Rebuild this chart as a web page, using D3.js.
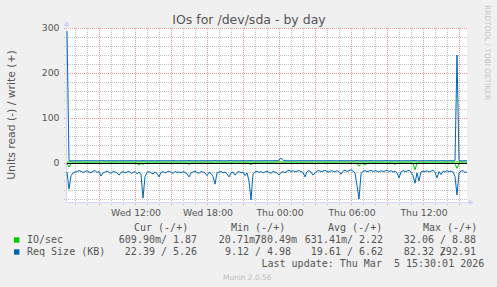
<!DOCTYPE html>
<html>
<head>
<meta charset="utf-8">
<script src="https://cdn.jsdelivr.net/npm/d3@7"></script>
<style>
body { margin: 0; background: #f0f0f0; }
svg { display: block; }
</style>
</head>
<body>
<div id="vis-container"></div>
<script>
// samples every 10 minutes, first one at Wed 06:20
var startTime = new Date(2026, 2, 4, 6, 20);
var endTime = new Date(2026, 2, 5, 15, 40);
var stepMinutes = 10;

// read values are drawn below zero
var reqRead = [
	20,58,28,22,20,19,17,18,21,19,
	17,20,22,18,17,21,19,29,22,20,
	18,21,23,19,20,22,27,21,19,22,
	20,18,23,21,19,24,20,26,78,30,
	21,19,22,24,20,23,31,21,19,22,
	20,18,21,23,19,21,20,22,19,21,
	24,31,22,20,18,21,23,19,20,22,
	28,21,23,30,47,22,20,19,22,20,
	24,31,22,20,27,21,19,22,20,28,
	22,40,82,24,20,18,21,19,22,20,
	18,21,23,19,20,22,27,21,19,22,
	18,16,19,17,20,18,17,19,21,31,
	19,17,20,27,22,18,17,19,18,16,
	19,20,17,18,20,17,19,25,18,16,
	19,17,15,18,22,50,80,24,18,17,
	19,18,16,19,17,18,20,17,19,18,
	16,19,17,20,18,22,33,20,17,19,
	18,16,20,28,45,22,40,20,18,19,
	17,20,18,16,21,33,19,26,18,20,
	17,19,18,20,30,71,22,18,17,21,
	20
];
var reqWrite = [
	292.9,5.1,4.9,5.0,5.2,4.8,5.0,5.1,4.9,5.0,
	5.2,5.0,4.9,5.1,5.0,4.8,5.0,5.2,5.1,4.9,
	5.0,5.1,4.9,5.0,5.2,5.0,4.8,5.1,5.0,4.9,
	5.1,5.0,5.2,4.9,5.0,5.1,4.8,5.0,5.3,5.0,
	4.9,5.1,5.0,5.0,4.8,5.2,5.0,4.9,5.1,5.0,
	5.0,4.9,5.1,5.2,5.0,4.8,5.0,5.1,4.9,5.0,
	5.1,5.3,5.0,4.9,5.0,5.1,4.8,5.0,5.2,4.9,
	5.0,5.1,4.9,5.0,5.4,5.0,4.9,5.1,5.0,4.8,
	5.0,5.2,5.1,4.9,5.0,5.1,4.9,5.0,5.2,5.0,
	4.8,5.1,5.4,5.0,4.9,5.0,5.1,4.9,5.0,5.2,
	5.0,4.9,5.1,5.0,5.2,5.0,6.5,11,6.0,5.1,
	5.0,4.9,5.1,5.0,4.8,5.0,5.2,5.1,4.9,5.0,
	5.1,5.0,4.9,5.2,5.0,4.8,5.1,5.0,4.9,5.1,
	5.0,5.2,4.9,5.0,5.1,4.8,5.0,5.3,5.0,4.9,
	5.1,5.0,5.0,4.8,5.2,5.4,5.0,4.9,5.1,5.0,
	4.9,5.1,5.2,5.0,4.8,5.0,5.1,4.9,5.0,5.1,
	5.3,5.0,4.9,5.0,5.1,4.8,5.2,5.0,4.9,5.0,
	5.1,4.9,5.0,5.2,5.5,5.0,4.9,5.1,5.0,4.8,
	5.0,5.2,5.1,4.9,5.0,5.1,4.9,5.0,5.2,5.0,
	4.8,5.1,5.0,5.0,5.3,240,5.2,5.0,4.9,5.1,
	5.0
];
var ioRead = [
	0.6,9,0.8,0.6,0.5,0.6,0.7,0.6,0.5,0.6,
	0.7,0.6,0.6,0.5,0.7,0.6,0.6,0.8,0.6,0.5,
	0.6,0.7,0.6,0.6,0.5,0.6,0.7,0.6,0.6,0.5,
	0.6,0.7,0.6,0.5,0.6,0.8,5,0.7,3,0.6,
	0.5,0.6,0.7,0.6,0.6,0.5,0.7,0.6,0.6,0.5,
	0.6,0.7,0.6,0.6,0.5,0.6,0.7,0.6,0.5,0.6,
	0.7,3,0.6,0.5,0.6,0.7,0.6,0.6,0.5,0.6,
	0.7,0.6,0.6,0.5,1.2,0.6,0.7,0.6,0.5,0.6,
	0.6,0.7,0.6,0.5,0.6,0.7,0.6,0.6,0.5,0.6,
	0.7,0.8,4,0.7,0.6,0.5,0.6,0.7,0.6,0.6,
	0.5,0.6,0.7,0.6,0.6,0.5,0.7,0.6,0.6,0.5,
	0.6,0.7,0.6,0.6,0.5,0.6,0.7,0.6,0.5,0.6,
	0.7,0.6,0.6,0.5,2,0.6,0.7,0.6,0.5,0.6,
	0.6,0.7,0.6,0.5,0.6,0.7,0.6,0.6,0.5,0.6,
	0.7,0.6,0.6,0.5,0.6,0.9,7,0.8,0.6,5,
	0.7,0.6,0.6,0.5,0.6,0.7,0.6,0.6,0.5,0.6,
	0.7,0.6,0.6,0.5,3,0.6,0.7,0.6,0.5,0.6,
	0.6,0.7,0.6,1.5,15,0.8,0.6,0.6,0.5,0.6,
	0.7,0.6,0.6,0.5,0.6,0.7,0.6,0.6,0.5,0.6,
	0.6,0.7,0.6,0.5,1.5,12,0.8,0.6,0.6,0.6,
	0.6
];
var ioWrite = [
	2.1,2.3,2.2,2.0,2.2,2.4,2.1,2.2,2.3,2.0,
	2.2,2.1,2.3,2.2,2.0,2.2,2.4,2.1,2.2,2.3,
	2.1,2.2,2.0,2.3,2.2,2.1,2.4,2.2,2.0,2.2,
	2.3,2.1,2.2,2.2,2.0,2.3,2.1,2.2,2.4,2.1,
	2.2,2.0,2.3,2.2,2.1,2.2,2.3,2.0,2.2,2.1,
	2.4,2.2,2.1,2.3,2.2,2.0,2.2,2.1,2.3,2.2,
	2.1,2.2,2.4,2.0,2.2,2.3,2.1,2.2,2.0,2.3,
	2.2,2.1,2.2,2.3,2.0,2.2,2.4,2.1,2.2,2.2,
	2.0,2.3,2.1,2.2,2.4,2.1,2.2,2.0,2.3,2.2,
	2.1,2.2,2.3,2.0,2.2,2.1,2.4,2.2,2.1,2.3,
	2.2,2.0,2.2,2.1,2.3,2.2,2.6,2.4,2.2,2.1,
	2.3,2.2,2.0,2.2,2.4,2.1,2.2,2.3,2.0,2.2,
	2.1,2.3,2.2,2.0,2.2,2.4,2.1,2.2,2.3,2.0,
	2.2,2.1,2.3,2.2,2.0,2.2,2.4,2.1,2.2,2.3,
	2.1,2.2,2.0,2.3,2.2,2.1,2.4,2.2,2.0,2.2,
	2.3,2.1,2.2,2.2,2.0,2.3,2.1,2.2,2.4,2.1,
	2.2,2.0,2.3,2.2,2.1,2.2,2.3,2.0,2.2,2.1,
	2.4,2.2,2.1,2.3,2.2,2.0,2.2,2.1,2.3,2.2,
	2.1,2.2,2.4,2.0,2.2,2.3,2.1,2.2,2.0,2.3,
	2.2,2.1,2.2,2.3,2.0,2.5,2.4,2.1,2.2,2.2,
	1.9
];

var yMajorTicks = [0, 100, 200, 300];
var legendNames = ["IO/sec", "Req Size (KB)"];
var legendColors = ["#00cc00", "#0066b3"];
var legendHeaders = ["Cur (-/+)", "Min (-/+)", "Avg (-/+)", "Max (-/+)"];
// [left part incl. "/", right part] per column
var legendValues = [
	[["609.90m/", " 1.87 "], ["20.71m/", "780.49m"], ["631.41m/", " 2.22 "], ["32.06 /", " 8.88 "]],
	[["22.39 /", " 5.26 "], ["9.12 /", " 4.98 "], ["19.61 /", " 6.62 "], ["82.32 /", "292.91 "]]
];
var lastUpdate = "Last update: Thu Mar  5 15:30:01 2026";

// plot box
var plotLeft = 67, plotRight = 467, plotTop = 28, plotBottom = 202.6;
var textColor = "#555555";
var axisColor = "#cfd6f8";

var svg = d3.select("#vis-container")
	.append("svg")
	.attr("width", 497)
	.attr("height", 287)
	.style("font-family", "'DejaVu Sans', sans-serif");

svg.append("rect").attr("width", 497).attr("height", 287).attr("fill", "#f0f0f0");
svg.append("rect")
	.attr("x", plotLeft).attr("y", plotTop)
	.attr("width", plotRight - plotLeft).attr("height", plotBottom - plotTop)
	.attr("fill", "#ffffff");

var x = d3.scaleTime().domain([startTime, endTime]).range([plotLeft, plotRight]);
var y = d3.scaleLinear().domain([-88, 300]).range([plotBottom, plotTop]);

// grid
var minorY = d3.range(-80, 301, 20);
var hours = d3.timeHour.every(1).range(startTime, endTime);
var grid = svg.append("g").attr("stroke-dasharray", "1,1").attr("shape-rendering", "crispEdges");
var minorColor = "rgba(143,143,143,0.55)";
var majorColor = "rgba(222,79,79,0.6)";

grid.selectAll(".hminor").data(minorY.filter(function(v) { return yMajorTicks.indexOf(v) < 0; }))
	.enter().append("line")
	.attr("x1", plotLeft - 3).attr("x2", plotRight)
	.attr("y1", function(d) { return Math.round(y(d)) + 0.5; })
	.attr("y2", function(d) { return Math.round(y(d)) + 0.5; })
	.attr("stroke", minorColor);

grid.selectAll(".vminor").data(hours.filter(function(d) { return d.getHours() % 3 != 0; }))
	.enter().append("line")
	.attr("x1", function(d) { return Math.round(x(d)) + 0.5; })
	.attr("x2", function(d) { return Math.round(x(d)) + 0.5; })
	.attr("y1", plotTop).attr("y2", plotBottom + 3)
	.attr("stroke", minorColor);

grid.selectAll(".hmajor").data(yMajorTicks)
	.enter().append("line")
	.attr("x1", plotLeft - 3).attr("x2", plotRight)
	.attr("y1", function(d) { return Math.round(y(d)) + 0.5; })
	.attr("y2", function(d) { return Math.round(y(d)) + 0.5; })
	.attr("stroke", majorColor);

grid.selectAll(".vmajor").data(hours.filter(function(d) { return d.getHours() % 3 == 0; }))
	.enter().append("line")
	.attr("x1", function(d) { return Math.round(x(d)) + 0.5; })
	.attr("x2", function(d) { return Math.round(x(d)) + 0.5; })
	.attr("y1", plotTop).attr("y2", plotBottom + 3)
	.attr("stroke", majorColor);

// axes with arrows
svg.append("line").attr("x1", plotLeft - 0.5).attr("x2", plotLeft - 0.5)
	.attr("y1", plotBottom).attr("y2", plotTop - 5)
	.attr("stroke", axisColor);
svg.append("line").attr("x1", plotLeft).attr("x2", plotRight + 4)
	.attr("y1", plotBottom).attr("y2", plotBottom)
	.attr("stroke", axisColor);
svg.append("path")
	.attr("d", "M" + (plotLeft - 3.5) + "," + (plotTop - 2) + "L" + (plotLeft - 0.5) + "," + (plotTop - 7) + "L" + (plotLeft + 2.5) + "," + (plotTop - 2) + "Z")
	.attr("fill", axisColor);
svg.append("path")
	.attr("d", "M" + (plotRight + 2) + "," + (plotBottom - 3) + "L" + (plotRight + 7) + "," + plotBottom + "L" + (plotRight + 2) + "," + (plotBottom + 3) + "Z")
	.attr("fill", axisColor);

// tick labels
svg.selectAll(".ylab").data(yMajorTicks).enter().append("text")
	.attr("x", 59.5).attr("y", function(d) { return y(d) + 3.4; })
	.attr("text-anchor", "end")
	.attr("font-size", "9.3px").attr("fill", textColor)
	.text(function(d) { return d; });

var fmt = d3.timeFormat("%a %H:%M");
svg.selectAll(".xlab").data(hours.filter(function(d) { return d.getHours() % 6 == 0; }))
	.enter().append("text")
	.attr("x", function(d) { return x(d) + 1; }).attr("y", 216)
	.attr("text-anchor", "middle")
	.attr("font-size", "9.3px").attr("fill", textColor)
	.text(function(d) { return fmt(d); });

// series
var times = reqRead.map(function(d, i) { return d3.timeMinute.offset(startTime, i * stepMinutes); });
var line = d3.line()
	.x(function(d, i) { return x(times[i]); })
	.y(function(d) { return y(d); });

var plot = svg.append("g");
var drawSeries = function(values, sign, color) {
	plot.append("path")
		.attr("d", line(values.map(function(v) { return sign * v; })))
		.attr("fill", "none")
		.attr("stroke", color)
		.attr("stroke-width", 1)
		.attr("stroke-linejoin", "round");
};
drawSeries(ioRead, -1, legendColors[0]);
drawSeries(ioWrite, 1, legendColors[0]);
drawSeries(reqRead, -1, legendColors[1]);
drawSeries(reqWrite, 1, legendColors[1]);

// zero rule
svg.append("line").attr("x1", plotLeft).attr("x2", plotRight)
	.attr("y1", Math.round(y(0)) + 0.5).attr("y2", Math.round(y(0)) + 0.5)
	.attr("stroke", "#000000").attr("shape-rendering", "crispEdges");

// title and labels
svg.append("text").attr("x", 249).attr("y", 24)
	.attr("text-anchor", "middle").attr("font-size", "12.5px").attr("fill", textColor)
	.text("IOs for /dev/sda - by day");

svg.append("text")
	.attr("transform", "translate(15,115) rotate(-90)")
	.attr("text-anchor", "middle").attr("font-size", "10.8px").attr("fill", textColor)
	.text("Units read (-) / write (+)");

svg.append("text")
	.attr("transform", "translate(485,5) rotate(90)")
	.attr("font-size", "7.4px").attr("fill", "#c4c4c4")
	.text("RRDTOOL / TOBI OETIKER");

svg.append("text").attr("x", 223).attr("y", 279.5)
	.attr("font-size", "7.4px").attr("fill", "#bdbdbd")
	.text("Munin 2.0.56");

// legend
var legend = svg.append("g")
	.style("font-family", "'DejaVu Sans Mono', monospace")
	.attr("font-size", "10px").attr("fill", textColor);

var headerX = [134, 231, 328, 423];
var slashEnd = [167, 261, 353, 446];
var rowY = [243, 255];

var monoText = function(px, py, anchor, str) {
	legend.append("text")
		.attr("xml:space", "preserve")
		.attr("x", px).attr("y", py)
		.attr("text-anchor", anchor)
		.text(str);
};

legendHeaders.forEach(function(h, i) { monoText(headerX[i], 230.5, "start", h); });

legendNames.forEach(function(name, r) {
	legend.append("rect")
		.attr("x", 14).attr("y", rowY[r] - 5.7)
		.attr("width", 5.4).attr("height", 5.4)
		.attr("fill", legendColors[r]);
	monoText(27, rowY[r], "start", name);
	legendValues[r].forEach(function(cell, c) {
		monoText(slashEnd[c], rowY[r], "end", cell[0]);
		monoText(slashEnd[c] + 36, rowY[r], "end", cell[1]);
	});
});

monoText(261.5, 266.5, "start", lastUpdate);
</script>
</body>
</html>
